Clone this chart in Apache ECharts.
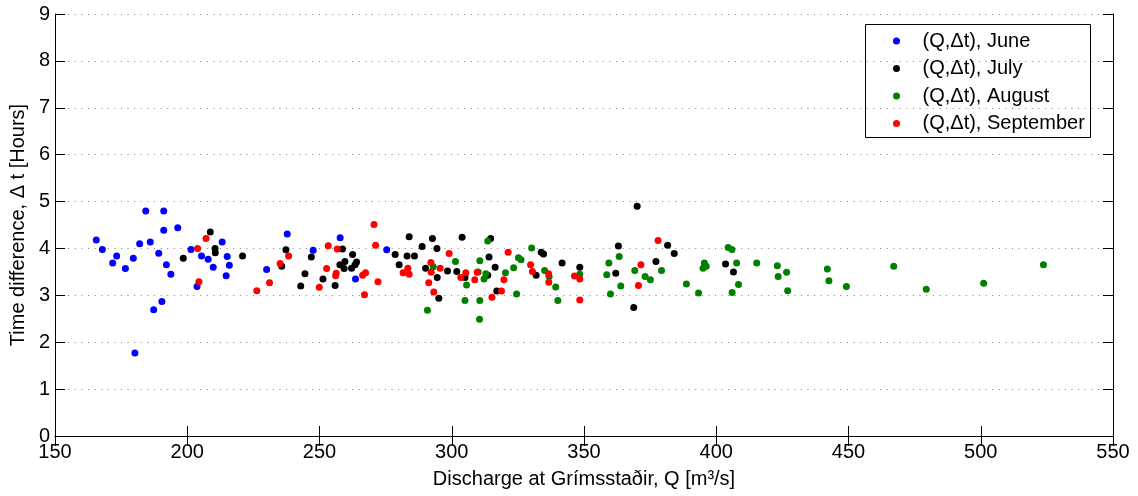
<!DOCTYPE html>
<html>
<head>
<meta charset="utf-8">
<script src="https://cdn.jsdelivr.net/npm/echarts@6/dist/echarts.min.js"></script>
<style>html,body{margin:0;padding:0;background:#fff;}#c{width:1138px;height:496px;}</style>
</head>
<body>
<div id="c"></div>
<script>
var xTicks = [150, 200, 250, 300, 350, 400, 450, 500, 550];
var yTicks = [0, 1, 2, 3, 4, 5, 6, 7, 8, 9];
var seriesNames = ['(Q,\u0394t), June', '(Q,\u0394t), July', '(Q,\u0394t), August', '(Q,\u0394t), September'];

var june = [[165.6,4.18],[167.9,3.98],[171.8,3.69],[173.3,3.84],[176.6,3.57],[179.6,3.79],[182.0,4.10],[184.3,4.80],[186.0,4.14],[189.2,3.90],[191.1,4.80],[191.1,4.39],[192.1,3.65],[193.8,3.45],[196.4,4.44],[190.4,2.87],[187.3,2.69],[180.2,1.77],[201.4,3.98],[203.7,3.19],[205.4,3.84],[207.9,3.77],[209.8,3.60],[213.2,4.14],[215.1,3.83],[215.9,3.64],[214.7,3.42],[230.0,3.55],[237.8,4.31],[247.6,3.96],[257.8,4.23],[263.6,3.35],[275.4,3.97]];

var july = [[198.5,3.79],[208.7,4.35],[210.5,4.00],[210.6,3.91],[220.9,3.84],[237.3,3.97],[235.7,3.62],[244.5,3.46],[242.9,3.20],[246.9,3.82],[251.3,3.35],[255.9,3.21],[258.7,3.99],[262.5,3.87],[257.7,3.65],[259.6,3.72],[259.3,3.57],[262.1,3.58],[263.4,3.65],[264.0,3.71],[278.6,3.87],[280.1,3.65],[283.9,4.25],[283.1,3.84],[285.9,3.84],[288.8,4.04],[290.1,3.58],[292.7,4.21],[294.4,4.00],[294.5,3.38],[295.1,2.94],[298.4,3.52],[301.9,3.51],[303.9,4.24],[305.0,3.38],[314.1,3.82],[314.7,4.21],[316.4,3.60],[313.6,3.43],[317.0,3.09],[331.9,3.43],[333.8,3.92],[334.7,3.88],[341.7,3.69],[348.4,3.60],[363.0,4.05],[362.0,3.47],[370.1,4.90],[368.8,2.74],[377.2,3.72],[381.6,4.07],[384.1,3.89],[403.5,3.67],[406.5,3.50]];

var august = [[290.8,2.68],[293.0,3.61],[301.4,3.72],[305.6,3.22],[305.0,2.89],[310.0,3.50],[310.6,3.74],[310.6,2.89],[310.5,2.49],[312.2,3.35],[312.9,3.46],[313.6,4.16],[320.3,3.48],[323.4,3.59],[324.5,3.03],[325.2,3.80],[326.2,3.76],[330.2,4.01],[335.1,3.53],[336.8,3.40],[339.3,3.18],[340.1,2.89],[348.4,3.45],[359.4,3.69],[358.6,3.44],[360.0,3.03],[363.3,3.83],[363.9,3.20],[369.2,3.53],[373.1,3.40],[375.1,3.33],[379.3,3.53],[388.7,3.24],[393.3,3.05],[395.0,3.58],[395.5,3.69],[396.2,3.62],[404.5,4.02],[405.9,3.98],[407.7,3.69],[408.4,3.23],[406.0,3.06],[415.3,3.69],[423.1,3.63],[423.4,3.40],[426.6,3.49],[427.0,3.10],[442.0,3.56],[442.6,3.31],[449.2,3.19],[467.1,3.62],[479.4,3.13],[501.1,3.26],[523.7,3.65]];

var september = [[203.9,4.00],[207.1,4.21],[204.4,3.29],[226.3,3.10],[231.1,3.27],[235.1,3.68],[238.3,3.84],[252.7,3.57],[253.3,4.06],[256.7,3.99],[256.3,3.47],[256.1,3.42],[249.9,3.17],[266.3,3.43],[267.4,3.48],[267.0,3.01],[272.1,3.29],[270.6,4.51],[271.2,4.07],[281.6,3.48],[283.4,3.58],[283.9,3.45],[292.1,3.70],[292.2,3.49],[291.3,3.27],[293.2,3.07],[295.6,3.58],[299.0,3.89],[303.4,3.38],[305.3,3.48],[308.7,3.33],[309.6,3.49],[315.2,2.96],[318.8,3.09],[319.7,3.33],[321.3,3.92],[329.8,3.65],[330.5,3.51],[336.6,3.46],[336.7,3.28],[346.4,3.41],[348.4,3.35],[348.4,2.90],[371.5,3.65],[370.6,3.21],[378.0,4.17]];

var colors = ['#0000ff', '#000000', '#008000', '#ff0000'];
var datasets = [june, july, august, september];

var FONT = 'Liberation Sans, Arial, Helvetica, sans-serif';
var FS = 20;

var chart = echarts.init(document.getElementById('c'), null, {renderer: 'canvas'});

var axisLineStyle = {show: true, lineStyle: {color: '#000', width: 1}};
var tickStyle = {show: true, inside: true, length: 10, lineStyle: {color: '#000', width: 1}};

var option = {
  animation: false,
  backgroundColor: '#fff',
  grid: {left: 55, right: 25, top: 14, bottom: 60, containLabel: false},
  graphic: [{
    type: 'rect', left: 865, top: 24, z: 100,
    shape: {width: 225, height: 113},
    style: {fill: 'rgba(0,0,0,0)', stroke: '#000', lineWidth: 1}
  }],
  legend: {
    orient: 'vertical', left: 865, top: 24,
    padding: [7, 10, 6, 28],
    itemWidth: 42, itemHeight: 7, itemGap: 7.5,
    backgroundColor: 'rgba(0,0,0,0)',
    icon: 'circle',
    textStyle: {fontFamily: FONT, fontSize: FS, color: '#000', lineHeight: 18},
    data: seriesNames
  },
  xAxis: [{
    type: 'value', min: xTicks[0], max: xTicks[xTicks.length - 1], interval: xTicks[1] - xTicks[0],
    position: 'bottom',
    name: 'Discharge at Grímsstaðir, Q [m³/s]',
    nameLocation: 'middle', nameGap: 33,
    nameTextStyle: {fontFamily: FONT, fontSize: FS, color: '#000'},
    axisLine: axisLineStyle, axisTick: tickStyle,
    axisLabel: {fontFamily: FONT, fontSize: FS, color: '#000', margin: 6},
    splitLine: {show: false}
  }, {
    type: 'value', min: xTicks[0], max: xTicks[xTicks.length - 1], interval: xTicks[1] - xTicks[0],
    position: 'top',
    axisLine: axisLineStyle, axisTick: tickStyle,
    axisLabel: {show: false}, splitLine: {show: false}
  }],
  yAxis: [{
    type: 'value', min: yTicks[0], max: yTicks[yTicks.length - 1], interval: yTicks[1] - yTicks[0],
    position: 'left',
    name: 'Time difference, \u0394 t [Hours]',
    nameLocation: 'middle', nameGap: 27,
    nameTextStyle: {fontFamily: FONT, fontSize: FS, color: '#000'},
    axisLine: axisLineStyle, axisTick: tickStyle,
    axisLabel: {fontFamily: FONT, fontSize: FS, color: '#000', margin: 5},
    splitLine: {show: true, lineStyle: {color: '#808080', width: 1, type: [1, 5.6]}}
  }, {
    type: 'value', min: yTicks[0], max: yTicks[yTicks.length - 1], interval: yTicks[1] - yTicks[0],
    position: 'right',
    axisLine: axisLineStyle, axisTick: tickStyle,
    axisLabel: {show: false}, splitLine: {show: false}
  }],
  series: datasets.map(function (d, i) {
    return {
      name: seriesNames[i], type: 'scatter', xAxisIndex: 0, yAxisIndex: 0,
      data: d, symbol: 'circle', symbolSize: 7, z: 2 + i,
      itemStyle: {color: colors[i], opacity: 1},
      emphasis: {disabled: true}
    };
  })
};
chart.setOption(option);
</script>
</body>
</html>
